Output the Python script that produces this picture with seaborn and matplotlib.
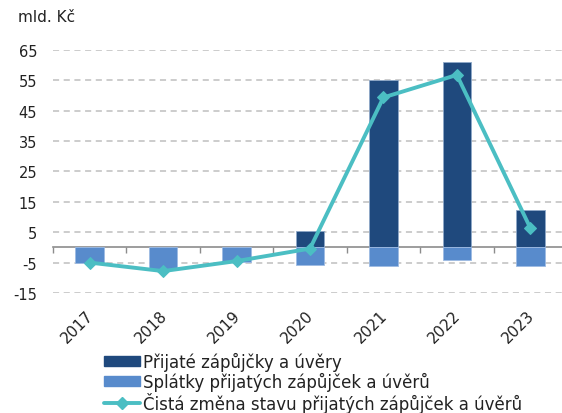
import numpy as np
import pandas as pd
import matplotlib
matplotlib.use("Agg")
import matplotlib.pyplot as plt
import matplotlib.transforms as mtransforms
import seaborn as sns
from matplotlib.lines import Line2D
from matplotlib.patches import Patch

# data (mld. Kč)
years = ["2017", "2018", "2019", "2020", "2021", "2022", "2023"]
prijate = [0, 0, 0, 5.3, 55.0, 60.8, 12.4]
splatky = [-5.0, -7.1, -4.9, -5.7, -6.1, -4.3, -6.1]
cista = [-5.0, -7.8, -4.5, -0.4, 49.3, 56.7, 6.4]

labels = ["Přijaté zápůjčky a úvěry",
          "Splátky přijatých zápůjček a úvěrů",
          "Čistá změna stavu přijatých zápůjček a úvěrů"]

c_dark = "#1F497D"
c_light = "#588BCC"
c_line = "#4BBEC3"

sns.set_theme(style="white")
plt.rcParams["font.family"] = ["DejaVu Sans"]
plt.rcParams["axes.unicode_minus"] = False

df = pd.DataFrame({"rok": years, "prijate": prijate, "splatky": splatky, "cista": cista})

fig = plt.figure(figsize=(5.62, 4.14), dpi=100)
ax = fig.add_axes([53 / 562, 1 - 294 / 414, 1 - 53 / 562, (294 - 50.7) / 414])

sns.barplot(data=df, x="rok", y="prijate", color=c_dark, width=0.39,
            saturation=1, edgecolor="#8FA8C8", linewidth=0.6, ax=ax, zorder=2)
sns.barplot(data=df, x="rok", y="splatky", color=c_light, width=0.39,
            saturation=1, edgecolor="#9DBBE3", linewidth=0.6, ax=ax, zorder=2)
sns.lineplot(x=np.arange(len(years)), y=df["cista"], color=c_line, lw=2.8,
             marker="D", markersize=6, markeredgecolor=c_line, ax=ax, zorder=3)

ax.set_ylim(-15, 65)
ax.set_yticks(np.arange(-15, 66, 10))
ax.set_xlim(-0.5, 6.5 - 5 / 73.4)
ax.grid(axis="y", color="#BFBFBF", lw=1.1, ls=(0, (4, 3)))
ax.set_axisbelow(True)
for s in ax.spines.values():
    s.set_visible(False)
ax.set_xlabel("")
ax.set_ylabel("")
ax.tick_params(axis="y", length=0, labelsize=10.5, pad=11.5, colors="#222222")
ax.tick_params(axis="x", length=0, labelsize=11, pad=10, colors="#222222")
ax.set_xticks(range(len(years)))
ax.set_xticklabels(years, rotation=45, ha="right", rotation_mode="anchor")
shift = mtransforms.ScaledTranslation(-4 / 100, 0, fig.dpi_scale_trans)
for lab in ax.get_xticklabels():
    lab.set_transform(lab.get_transform() + shift)

# zero line with category boundary ticks
sec = ax.secondary_xaxis(15 / 80)
sec.spines["bottom"].set_color("#8C8C8C")
sec.spines["bottom"].set_linewidth(1.2)
sec.set_xticks(np.arange(-0.5, 6.5, 1))
sec.tick_params(axis="x", direction="out", length=4, width=1, color="#8C8C8C", labelbottom=False)

fig.text(18 / 562, 1 - 18 / 414, "mld. Kč", fontsize=11, va="center", ha="left", color="#222222")

handles = [Patch(facecolor=c_dark, edgecolor=c_dark),
           Patch(facecolor=c_light, edgecolor=c_light),
           Line2D([], [], color=c_line, lw=2.8, marker="D", markersize=6)]
fig.legend(handles, labels, loc="upper left", bbox_to_anchor=(104 / 562, 1 - 353 / 414),
           frameon=False, fontsize=12, borderpad=0, borderaxespad=0, handlelength=2.15,
           handleheight=0.5, handletextpad=0.2, labelspacing=0.05, labelcolor="#222222")

fig.savefig("out.png", dpi=100)
